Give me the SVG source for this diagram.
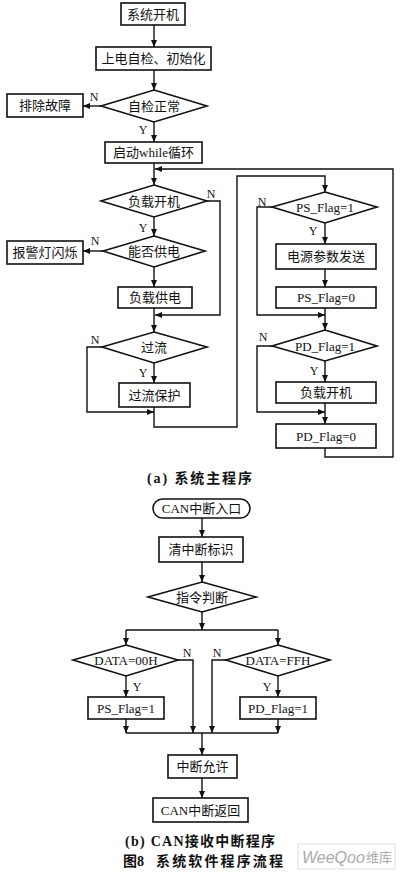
<svg xmlns="http://www.w3.org/2000/svg" width="400" height="879" viewBox="0 0 400 879">
<defs>
<marker id="ah" markerUnits="userSpaceOnUse" markerWidth="8" markerHeight="7" refX="7" refY="3" orient="auto">
<path d="M0,0 L7,3 L0,6 z" fill="#111"/>
</marker>
<style>
.box{fill:#fff;stroke:#111;stroke-width:1.6}
.c{fill:none;stroke:#111;stroke-width:1.4}
.a{marker-end:url(#ah)}
.t{font-family:"Liberation Serif","Noto Sans CJK SC",serif;font-size:13px;fill:#111;text-anchor:middle;dominant-baseline:central}
.l{font-family:"Liberation Serif",serif;font-size:12px;fill:#111;text-anchor:middle;dominant-baseline:central}
.cap{font-family:"Liberation Serif","Noto Sans CJK SC",serif;font-size:14px;font-weight:bold;fill:#111}
</style>
</defs>
<rect width="400" height="879" fill="#fff"/>

<g id="connectors">
<path class="c a" d="M154,25 V47"/>
<path class="c a" d="M154,70 V90"/>
<path class="c a" d="M101,106 H83"/>
<path class="c a" d="M154,122 V142"/>
<path class="c a" d="M154,163 V185"/>
<path class="c a" d="M154,217 V236"/>
<path class="c a" d="M103,251 H83"/>
<path class="c a" d="M154,267 V287"/>
<path class="c a" d="M154,308 V332"/>
<path class="c a" d="M207,201 H220 V315 H155"/>
<path class="c a" d="M154,363 V383"/>
<path class="c a" d="M102,347 H87 V412 H154"/>
<path class="c a" d="M154,407 V427 H237 V176 H325 V192"/>
<path class="c a" d="M325,223 V244"/>
<path class="c a" d="M325,269 V287"/>
<path class="c a" d="M325,308 V330"/>
<path class="c a" d="M272,207 H257 V315 H325"/>
<path class="c a" d="M325,361 V382"/>
<path class="c a" d="M272,346 H257 V412 H325"/>
<path class="c a" d="M325,403 V424"/>
<path class="c a" d="M325,448 V457 H393 V169 H155"/>

<path class="c a" d="M202,518 V537"/>
<path class="c a" d="M202,562 V582"/>
<path class="c a" d="M202,612 V630"/>
<path class="c" d="M126,630 H278"/>
<path class="c a" d="M126,630 V645"/>
<path class="c a" d="M278,630 V645"/>
<path class="c a" d="M178,660 H193 V733"/>
<path class="c a" d="M226,660 H212 V733"/>
<path class="c a" d="M126,676 V697"/>
<path class="c a" d="M278,676 V697"/>
<path class="c a" d="M126,719 V733"/>
<path class="c a" d="M278,719 V733"/>
<path class="c" d="M126,733 H278"/>
<path class="c a" d="M202,733 V755"/>
<path class="c a" d="M202,778 V798"/>
</g>

<g id="labels">
<text class="l" x="94" y="97">N</text>
<text class="l" x="143" y="130">Y</text>
<text class="l" x="211" y="194">N</text>
<text class="l" x="143" y="228">Y</text>
<text class="l" x="95" y="241">N</text>
<text class="l" x="95" y="340">N</text>
<text class="l" x="143" y="373">Y</text>
<text class="l" x="262" y="202">N</text>
<text class="l" x="313" y="231">Y</text>
<text class="l" x="263" y="337">N</text>
<text class="l" x="314" y="371">Y</text>
<text class="l" x="187" y="653">N</text>
<text class="l" x="217" y="653">N</text>
<text class="l" x="137" y="687">Y</text>
<text class="l" x="267" y="687">Y</text>
</g>

<g id="n1"><rect class="box" x="121" y="3" width="64" height="22"/><text class="t" x="153" y="14">系统开机</text></g>
<g id="n2"><rect class="box" x="96" y="47" width="115" height="23"/><text class="t" x="153.5" y="58.5">上电自检、初始化</text></g>
<g id="d1"><polygon class="box" points="154,90 207,106 154,122 101,106"/><text class="t" x="154" y="106">自检正常</text></g>
<g id="n3"><rect class="box" x="7" y="94" width="76" height="23"/><text class="t" x="45" y="105.5">排除故障</text></g>
<g id="n4"><rect class="box" x="105" y="142" width="97" height="21"/><text class="t" x="153.5" y="152.5">启动while循环</text></g>
<g id="d2"><polygon class="box" points="154,185 207,201 154,217 101,201"/><text class="t" x="154" y="201">负载开机</text></g>
<g id="d3"><polygon class="box" points="154,236 205,251 154,267 103,251"/><text class="t" x="154" y="251">能否供电</text></g>
<g id="n5"><rect class="box" x="7" y="241" width="76" height="23"/><text class="t" x="45" y="252.5">报警灯闪烁</text></g>
<g id="n6"><rect class="box" x="118" y="287" width="74" height="21"/><text class="t" x="155" y="297.5">负载供电</text></g>
<g id="d4"><polygon class="box" points="154,332 207,347 154,363 102,347"/><text class="t" x="154" y="347">过流</text></g>
<g id="n7"><rect class="box" x="119" y="383" width="71" height="24"/><text class="t" x="154.5" y="395">过流保护</text></g>
<g id="d5"><polygon class="box" points="325,192 377,207 325,223 272,207"/><text class="t" x="325" y="207">PS_Flag=1</text></g>
<g id="n8"><rect class="box" x="276" y="244" width="100" height="25"/><text class="t" x="326" y="256.5">电源参数发送</text></g>
<g id="n9"><rect class="box" x="276" y="287" width="100" height="21"/><text class="t" x="326" y="297.5">PS_Flag=0</text></g>
<g id="d6"><polygon class="box" points="325,330 377,346 325,361 272,346"/><text class="t" x="325" y="346">PD_Flag=1</text></g>
<g id="n10"><rect class="box" x="276" y="382" width="100" height="21"/><text class="t" x="326" y="392.5">负载开机</text></g>
<g id="n11"><rect class="box" x="276" y="424" width="100" height="24"/><text class="t" x="326" y="436">PD_Flag=0</text></g>

<text class="cap" x="147" y="483" textLength="105" lengthAdjust="spacing">(a) 系统主程序</text>

<g id="b1"><rect class="box" x="153" y="499" width="97" height="19" rx="9.5"/><text class="t" x="201.5" y="508.5">CAN中断入口</text></g>
<g id="b2"><rect class="box" x="159" y="537" width="84" height="25"/><text class="t" x="201" y="549.5">清中断标识</text></g>
<g id="b3"><polygon class="box" points="202,582 256,597 202,612 148,597"/><text class="t" x="202" y="597">指令判断</text></g>
<g id="b4"><polygon class="box" points="126,645 178,660 126,676 73,660"/><text class="t" x="126" y="660">DATA=00H</text></g>
<g id="b5"><polygon class="box" points="278,645 330,660 278,676 226,660"/><text class="t" x="278" y="660">DATA=FFH</text></g>
<g id="b6"><rect class="box" x="88" y="697" width="76" height="22"/><text class="t" x="126" y="708">PS_Flag=1</text></g>
<g id="b7"><rect class="box" x="240" y="697" width="76" height="22"/><text class="t" x="278" y="708">PD_Flag=1</text></g>
<g id="b8"><rect class="box" x="168" y="755" width="69" height="23"/><text class="t" x="202.5" y="766.5">中断允许</text></g>
<g id="b9"><rect class="box" x="153" y="798" width="95" height="24"/><text class="t" x="200.5" y="810">CAN中断返回</text></g>

<text class="cap" x="125" y="846" textLength="150" lengthAdjust="spacing">(b) CAN接收中断程序</text>
<text class="cap" x="123" y="866">图8</text>
<text class="cap" x="156" y="866" textLength="127" lengthAdjust="spacing">系统软件程序流程</text>

<g id="watermark">
<rect x="298" y="844" width="97" height="25" fill="#fff" stroke="#ddd" stroke-width="1"/>
<text x="302" y="863" font-family="'Liberation Sans',sans-serif" font-size="16" font-style="italic" fill="#aaa">WeeQoo</text>
<text x="366" y="862" font-family="'Noto Sans CJK SC',sans-serif" font-size="13" fill="#aaa">维库</text>
</g>
</svg>
